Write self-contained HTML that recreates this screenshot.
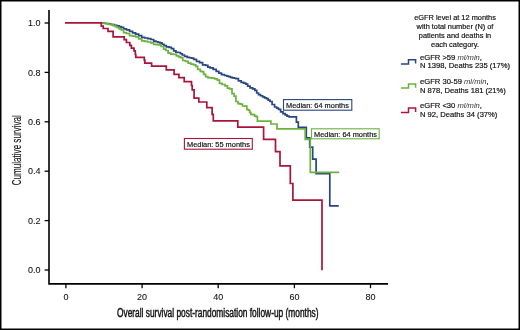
<!DOCTYPE html>
<html><head><meta charset="utf-8"><style>
html,body{margin:0;padding:0;background:#fff;}
svg{display:block;will-change:transform;}
</style></head><body>
<svg width="520" height="330" viewBox="0 0 520 330">
<rect x="0" y="0" width="520" height="330" fill="#fff"/>
<rect x="0.75" y="0.75" width="518.5" height="328.5" fill="none" stroke="#000" stroke-width="1.5"/>
<g stroke="#000" stroke-width="1.6" fill="none">
<path d="M49 10 V283.9 H388"/>
</g>
<g font-family="&apos;Liberation Sans&apos;, sans-serif" font-size="9" fill="#111" stroke="#111" stroke-width="0.08">
<line x1="44.6" y1="270.0" x2="49" y2="270.0" stroke="#000" stroke-width="1.3"/>
<text x="40.6" y="273.1" text-anchor="end">0.0</text>
<line x1="44.6" y1="220.6" x2="49" y2="220.6" stroke="#000" stroke-width="1.3"/>
<text x="40.6" y="223.7" text-anchor="end">0.2</text>
<line x1="44.6" y1="171.2" x2="49" y2="171.2" stroke="#000" stroke-width="1.3"/>
<text x="40.6" y="174.3" text-anchor="end">0.4</text>
<line x1="44.6" y1="121.8" x2="49" y2="121.8" stroke="#000" stroke-width="1.3"/>
<text x="40.6" y="124.9" text-anchor="end">0.6</text>
<line x1="44.6" y1="72.4" x2="49" y2="72.4" stroke="#000" stroke-width="1.3"/>
<text x="40.6" y="75.5" text-anchor="end">0.8</text>
<line x1="44.6" y1="23.0" x2="49" y2="23.0" stroke="#000" stroke-width="1.3"/>
<text x="40.6" y="26.1" text-anchor="end">1.0</text>
<line x1="65.9" y1="284" x2="65.9" y2="288.2" stroke="#000" stroke-width="1.3"/>
<text x="65.9" y="300.2" text-anchor="middle">0</text>
<line x1="142.1" y1="284" x2="142.1" y2="288.2" stroke="#000" stroke-width="1.3"/>
<text x="142.1" y="300.2" text-anchor="middle">20</text>
<line x1="218.2" y1="284" x2="218.2" y2="288.2" stroke="#000" stroke-width="1.3"/>
<text x="218.2" y="300.2" text-anchor="middle">40</text>
<line x1="294.4" y1="284" x2="294.4" y2="288.2" stroke="#000" stroke-width="1.3"/>
<text x="294.4" y="300.2" text-anchor="middle">60</text>
<line x1="370.5" y1="284" x2="370.5" y2="288.2" stroke="#000" stroke-width="1.3"/>
<text x="370.5" y="300.2" text-anchor="middle">80</text>
</g>
<g fill="none" stroke-width="1.7" stroke-linejoin="miter">
<path d="M101 22.8 H102.00 V23.03 H104.00 V23.27 H106.00 V23.50 H107.00 H108.00 V23.87 H110.00 V24.23 H112.00 V24.60 H113.00 H114.30 V25.25 H116.90 V25.90 H118.20 H119.20 V26.65 H121.20 V27.40 H122.20 H123.60 V28.90 H125.00 H126.50 V29.80 H128.00 H129.55 V31.40 H131.10 H132.60 V32.90 H134.10 H135.60 V34.10 H137.10 H138.65 V35.60 H140.20 H141.70 V37.40 H143.20 H144.70 V38.00 H146.20 H147.70 V38.60 H149.20 H150.75 V39.50 H152.30 H153.65 V41.20 H155.00 H156.00 V41.77 H158.00 V42.33 H160.00 V42.90 H161.00 H162.00 V44.25 H164.00 V45.60 H165.00 H166.35 V46.80 H167.70 H169.10 V47.30 H170.50 H171.40 V48.60 H172.30 H173.65 V50.90 H175.00 H175.90 V52.30 H176.80 H178.15 V52.50 H179.50 H180.43 V53.75 H182.27 V55.00 H183.20 H184.55 V56.40 H185.90 H187.25 V57.30 H188.60 H189.53 V57.75 H191.38 V58.20 H192.30 H193.65 V59.40 H195.00 H196.50 V61.40 H198.00 H199.55 V62.60 H201.10 H202.60 V64.80 H204.10 H205.60 V65.40 H207.10 H207.85 V67.10 H208.60 H210.15 V67.90 H211.70 H213.20 V69.40 H214.70 H216.20 V71.30 H217.70 H218.85 V73.20 H220.00 H221.50 V74.70 H223.00 H224.50 V75.50 H226.00 H226.88 V76.10 H228.62 V76.70 H229.50 H230.43 V77.30 H232.27 V77.90 H233.20 H234.10 V78.25 H235.90 V78.60 H236.80 H238.40 V80.80 H240.00 H241.20 V82.40 H242.40 H243.60 V83.20 H244.80 H245.75 V84.10 H246.70 H247.65 V86.20 H248.60 H250.05 V87.90 H251.50 H252.70 V88.90 H253.90 H254.85 V90.40 H255.80 H256.70 V93.00 H257.60 H258.50 V94.60 H259.40 H260.47 V95.75 H262.62 V96.90 H263.70 H264.60 V97.80 H266.40 V98.70 H267.30 H268.20 V100.10 H270.00 V101.50 H270.90 H272.10 V104.50 H273.30 H274.55 V107.00 H275.80 H276.70 V108.20 H278.50 V109.40 H279.40 H280.60 V111.80 H281.80 H283.00 V113.60 H284.20 H285.12 V114.85 H286.97 V116.10 H287.90 H289.10 V116.90 H290.30 H296.4 V122.1 H298.3 V127.3 H306.3 V137.9 H309.7 V147.1 H312.7 V159.2 H316.1 V173.7 H329.8 V205.8 H338.8" stroke="#284680"/>
<path d="M101 22.8 H101.95 V23.07 H103.85 V23.33 H105.75 V23.60 H106.70 H108.35 V24.30 H110.00 H111.05 V24.95 H113.15 V25.60 H114.20 H115.20 V26.65 H117.20 V27.70 H118.20 H119.20 V28.85 H121.20 V30.00 H122.20 H123.60 V32.60 H125.00 H126.50 V33.50 H128.00 H129.55 V35.60 H131.10 H132.60 V36.20 H134.10 H135.60 V36.80 H137.10 H138.65 V38.90 H140.20 H141.70 V40.80 H143.20 H144.70 V41.40 H146.20 H147.70 V42.00 H149.20 H150.75 V42.90 H152.30 H153.65 V44.40 H155.00 H156.20 V44.65 H158.60 V44.90 H159.80 H161.05 V46.50 H162.30 H163.65 V49.10 H165.00 H165.90 V50.50 H166.80 H168.15 V53.20 H169.50 H170.90 V54.10 H172.30 H173.65 V54.50 H175.00 H176.35 V55.90 H177.70 H178.62 V56.80 H180.47 V57.70 H181.40 H182.75 V60.50 H184.10 H185.45 V61.40 H186.80 H188.15 V63.20 H189.50 H190.90 V64.10 H192.30 H193.65 V64.80 H195.00 H195.75 V66.40 H196.50 H197.65 V69.40 H198.80 H200.30 V71.30 H201.80 H202.55 V71.90 H203.30 H203.70 V74.30 H204.10 H205.60 V76.60 H207.10 H207.85 V77.70 H208.60 H209.75 V77.90 H212.05 V78.10 H213.20 H214.70 V78.90 H216.20 H217.35 V80.20 H218.50 H219.50 V83.30 H220.50 H222.00 V84.50 H223.50 H225.00 V85.80 H226.50 H227.40 V88.20 H228.30 H229.55 V88.80 H230.80 H232.00 V93.60 H233.20 H234.10 V96.10 H235.00 H235.90 V101.50 H236.80 H238.00 V103.60 H239.20 H240.35 V104.10 H241.50 H242.45 V106.00 H243.40 H244.75 V106.20 H246.10 H246.85 V109.50 H247.60 H248.35 V110.10 H249.10 H249.65 V112.40 H250.20 H250.80 V114.30 H251.40 H252.70 V114.70 H254.00 H254.60 V116.20 H255.20 H256.30 V116.60 H257.40 V121.1 H270.9 V124 H277 V128.9 H305.2 V139.3 H310.3 V172.4 H339.2" stroke="#6cb23f"/>
<path d="M65 22.8 H101.3 V26.1 H103.2 V28.5 H108 V31.3 H113.1 V36.8 H124.2 V39.7 H126.4 V42.5 H129.8 V45.3 H131.4 V48.2 H134 V50.9 H135.3 V54.5 H135.8 V57.3 H144.3 V60.2 H144.8 V63.1 H151.6 V66.2 H166.3 V69.8 H174.1 V74.3 H178.9 V77.6 H184.2 V81.6 H191.5 V85.5 H192.2 V89.8 H194.1 V98.2 H198.8 V102 H206.8 V107.7 H212.1 V114.4 H213.3 V120.8 H237.8 V127.2 H263.6 V139.3 H275.5 V151.6 H280 V165.8 H290.3 V183.5 H292.9 V200.2 H322 V270.3" stroke="#aa143c"/>
</g>
<text x="0" y="0" transform="translate(20.8 185.2) rotate(-90)" font-family="&apos;Liberation Sans&apos;, sans-serif" font-size="12.6" textLength="69.9" lengthAdjust="spacingAndGlyphs" fill="#111" stroke="#111" stroke-width="0.12">Cumulative survival</text>
<text x="117" y="316.6" font-family="&apos;Liberation Sans&apos;, sans-serif" font-size="12" textLength="201.5" lengthAdjust="spacingAndGlyphs" fill="#111" stroke="#111" stroke-width="0.45">Overall survival post-randomisation follow-up (months)</text>
<g font-family="&apos;Liberation Sans&apos;, sans-serif" font-size="7.4" fill="#111" stroke="#111" stroke-width="0.18">
<text x="455" y="19.6" text-anchor="middle">eGFR level at 12 months</text>
<text x="455" y="28.5" text-anchor="middle">with total number (N) of</text>
<text x="455" y="37.6" text-anchor="middle">patients and deaths in</text>
<text x="455" y="46.8" text-anchor="middle">each category.</text>
<g font-size="7.62">
<text x="420" y="59.5">eGFR &gt;59 <tspan font-style="italic" stroke="none" fill="#333">ml/min</tspan>,</text>
<text x="420" y="68.1">N 1398, Deaths 235 (17%)</text>
<text x="420" y="84.1">eGFR 30-59 <tspan font-style="italic" stroke="none" fill="#333">ml/min</tspan>,</text>
<text x="420" y="92.7">N 878, Deaths 181 (21%)</text>
<text x="420" y="108.1">eGFR &lt;30 <tspan font-style="italic" stroke="none" fill="#333">ml/min</tspan>,</text>
<text x="420" y="116.9">N 92, Deaths 34 (37%)</text>
</g>
</g>
<path d="M400.9 63.9 H408.5 V59.8 H415.6 V63.5" fill="none" stroke="#284680" stroke-width="1.5"/>
<path d="M400.9 88.1 H408.5 V83.9 H415.6 V87.69999999999999" fill="none" stroke="#6cb23f" stroke-width="1.5"/>
<path d="M400.9 112.4 H408.5 V107.9 H415.6 V112.0" fill="none" stroke="#aa143c" stroke-width="1.5"/>
<g font-family="&apos;Liberation Sans&apos;, sans-serif" font-size="7.4" fill="#111" stroke="#111" stroke-width="0.18">
<rect x="283.5" y="99.6" width="68.3" height="10.6" fill="#fff" stroke="#284680" stroke-width="1.1"/>
<text x="286" y="107.5">Median: 64 months</text>
<rect x="311.5" y="128.8" width="67.7" height="10" fill="#fff" stroke="#6cb23f" stroke-width="1.1"/>
<text x="314.1" y="136.8">Median: 64 months</text>
<rect x="184.4" y="138.5" width="67.9" height="10.7" fill="#fff" stroke="#aa143c" stroke-width="1.1"/>
<text x="187" y="146.6">Median: 55 months</text>
</g>
</svg>
</body></html>
